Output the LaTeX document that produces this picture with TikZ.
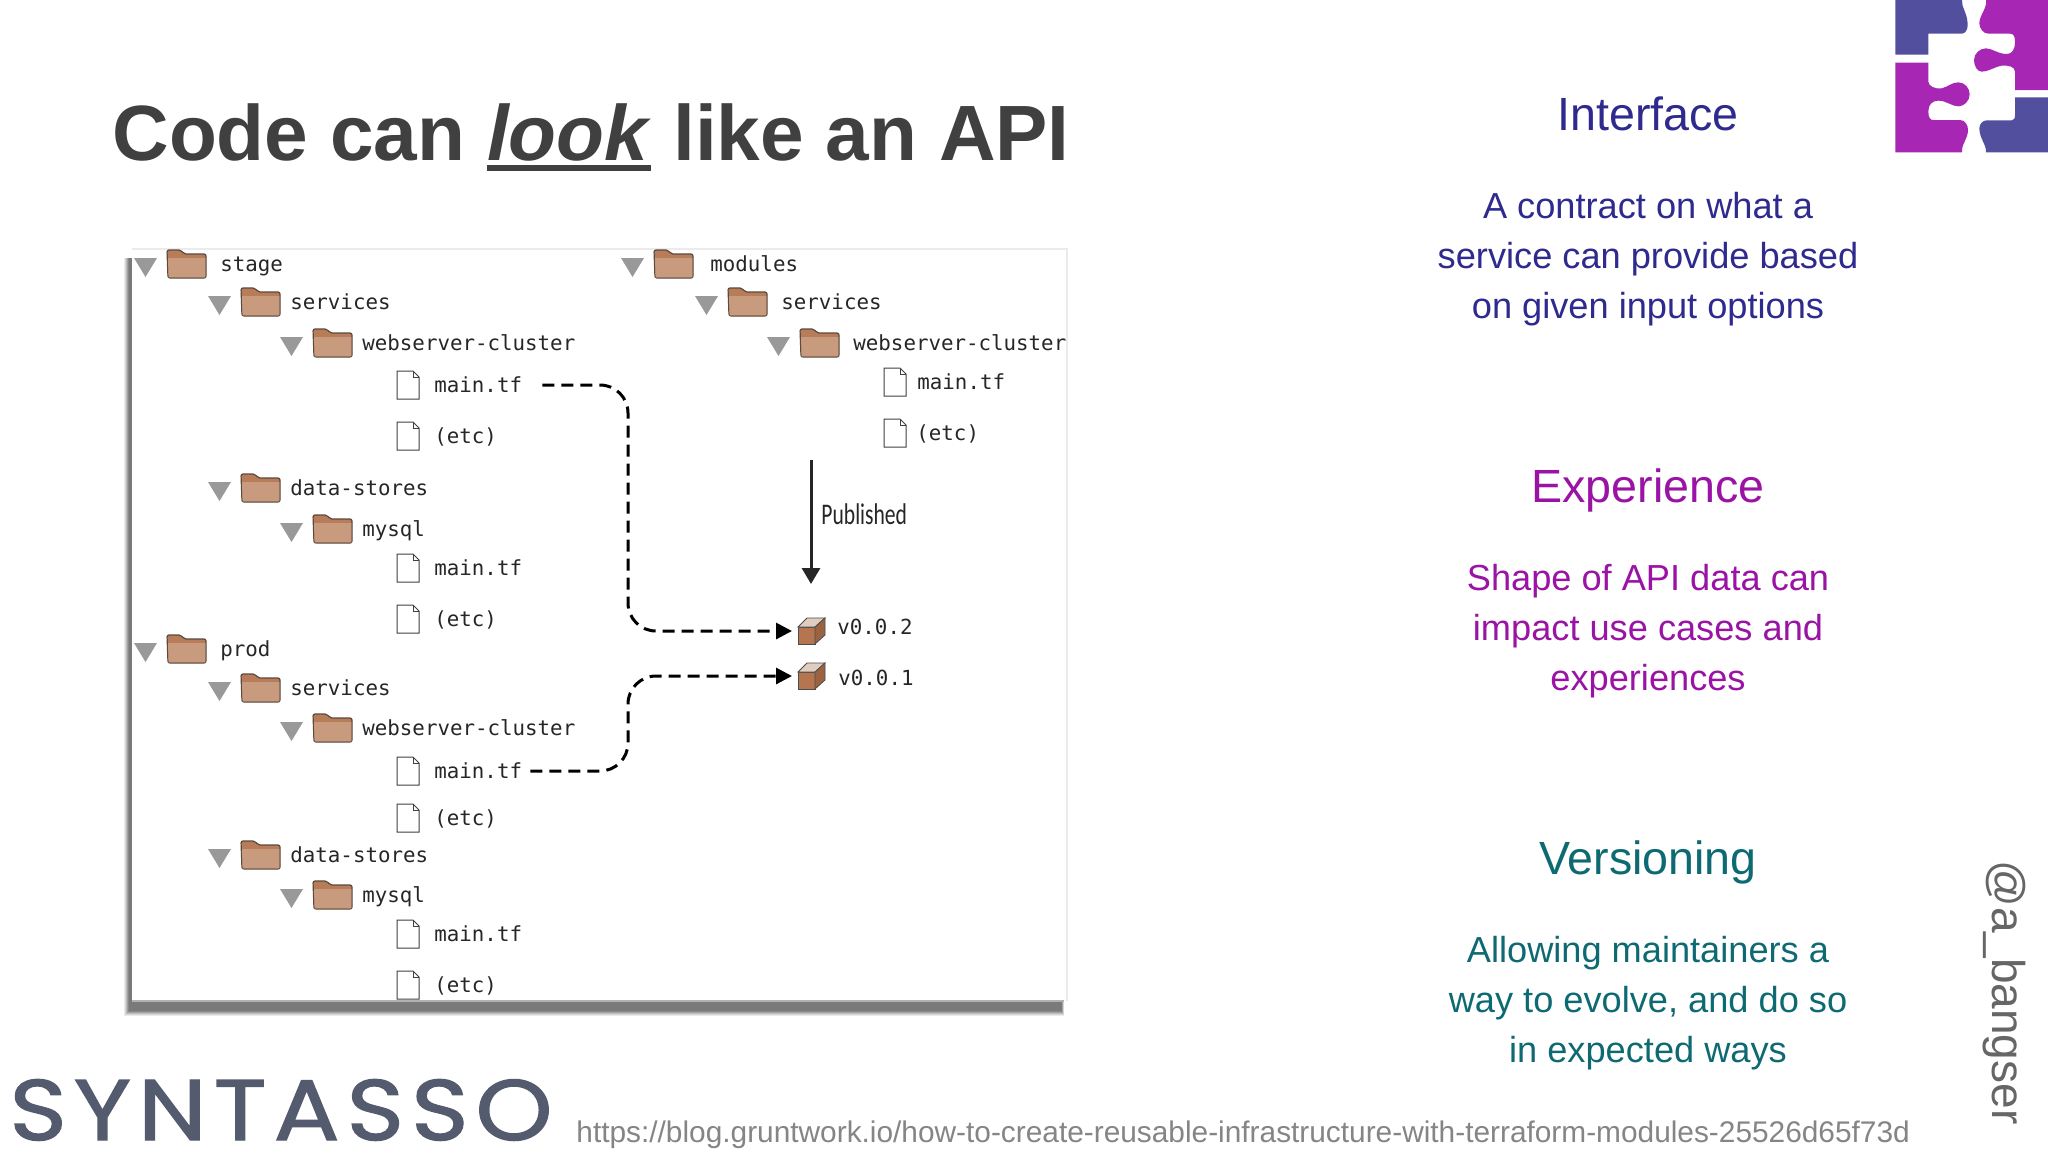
\documentclass[tikz,border=0pt]{standalone}
\usepackage{xcolor}
\usepackage{fontspec}
\setmainfont{Liberation Sans}
\newfontfamily\treefont{DejaVu Sans Mono}
\newfontfamily\narrowfont[FakeStretch=0.72]{Carlito}
\newfontfamily\brandfont[LetterSpace=8,FakeStretch=1.14,FakeBold=1.5]{Poppins}
\usetikzlibrary{arrows.meta}

\definecolor{titlegrey}{HTML}{404040}
\definecolor{ifacecol}{HTML}{2E2A8E}
\definecolor{expcol}{HTML}{9A13A5}
\definecolor{verscol}{HTML}{0E6A72}
\definecolor{logoblue}{HTML}{534F9F}
\definecolor{logopurple}{HTML}{A726B4}
\definecolor{brandgrey}{HTML}{555B6E}
\definecolor{foldertop}{HTML}{B87C58}
\definecolor{folderbody}{HTML}{C99B7E}
\definecolor{folderline}{HTML}{5A4A40}
\definecolor{cubefront}{HTML}{B5764F}
\definecolor{cubetop}{HTML}{E0CDBF}

\newcommand{\heavyunder}[1]{\setbox0\hbox{#1}\rlap{\rule[-5.6pt]{\wd0}{3.2pt}}\box0\relax}

\tikzset{
  treelabel/.style={anchor=base west, inner sep=0pt, font=\treefont\fontsize{10.4}{12}\selectfont, text=black!85},
  heading/.style={anchor=base, inner sep=0pt, font=\fontsize{23.3}{28}\selectfont},
  blurb/.style={anchor=center, inner sep=0pt, align=center, font=\fontsize{18.1}{25}\selectfont},
  dashlink/.style={line width=1.5pt, dash pattern=on 6pt off 3.5pt, rounded corners=14pt,
    -{Triangle[length=8pt,width=8pt]}},
  foldericon/.pic={
    \fill[black!40] (-52,-6) -- (-29,-6) -- (-40.5,13) -- cycle;
    \draw[draw=folderline, fill=foldertop, line width=.6pt, rounded corners=1pt]
      (-18,14) -- (-19,-14) -- (-5,-14) -- (-2,-10) -- (20,-10) -- (20,14) -- cycle;
    \fill[folderbody] (-18,-6) -- (19.4,-6) -- (19.4,13.4) -- (-17.4,13.4) -- cycle;
  },
  fileicon/.pic={
    \draw[draw=black!75, fill=white, line width=.5pt]
      (-11,-14) -- (5,-14) -- (11,-8) -- (11,14) -- (-11,14) -- cycle;
    \draw[draw=black!75, line width=.5pt] (5,-14) -- (5,-8) -- (11,-8);
  },
  cubeicon/.pic={
    \draw[draw=black!70, fill=cubefront, line width=.4pt] (-13,-4) rectangle (4,13);
    \draw[draw=black!70, fill=cubetop, line width=.4pt] (-13,-4) -- (-4,-13) -- (14,-13) -- (4,-4) -- cycle;
    \draw[draw=black!70, fill=cubefront!85!black, line width=.4pt] (4,-4) -- (14,-13) -- (14,4) -- (4,13) -- cycle;
  },
}

\begin{document}
\begin{tikzpicture}[x=0.5pt, y=-0.5pt]
  \useasboundingbox (0,0) rectangle (2048,1152);
  \fill[white] (0,0) rectangle (2048,1152);

  % Title and footer
  \node[anchor=base west, inner sep=0pt, text=titlegrey, font=\bfseries\fontsize{39.2}{44}\selectfont]
    (title) at (112,160) {Code can \heavyunder{\textit{look}} like an API};
  \node[anchor=base west, inner sep=0pt, text=brandgrey, font=\brandfont\fontsize{43}{48}\selectfont]
    (brand) at (9,1140) {SYNTASSO};
  \node[anchor=base west, inner sep=0pt, text=black!48, font=\fontsize{14.92}{18}\selectfont]
    (link) at (576,1142) {https://blog.gruntwork.io/how-to-create-reusable-infrastructure-with-terraform-modules-25526d65f73d};
  \node[anchor=base west, inner sep=0pt, rotate=-90, text=black!60, font=\fontsize{23}{28}\selectfont]
    (handle) at (1992,860) {@a\_bangser};

  % Right column
  \node[heading, text=ifacecol] (ifacehead) at (1648,130) {Interface};
  \node[blurb, text=ifacecol] (ifacebody) at (1648,259) {A contract on what a\\service can provide based\\on given input options};
  \node[heading, text=expcol] (exphead) at (1648,502) {Experience};
  \node[blurb, text=expcol] (expbody) at (1648,631) {Shape of API data can\\impact use cases and\\experiences};
  \node[heading, text=verscol] (vershead) at (1648,874) {Versioning};
  \node[blurb, text=verscol] (versbody) at (1648,1003) {Allowing maintainers a\\way to evolve, and do so\\in expected ways};

  % Logo
  \begin{scope}[shift={(1860,0)}, x=0.16667pt, y=-0.16667pt]
    \fill[logoblue] (106,0) -- (306,0) .. controls (303,20) and (323,40) .. (323,75)
      .. controls (323,90) and (315,101) .. (305,101) -- (205,101) -- (205,164) -- (106,164) -- cycle;
    \fill[logopurple] (378,0) -- (564,0) -- (564,270) -- (465,270) -- (465,215)
      .. controls (465,200) and (445,195) .. (425,197) .. controls (400,202) and (385,215) .. (365,215)
      .. controls (350,215) and (342,195) .. (342,180) .. controls (342,160) and (360,145) .. (378,145)
      .. controls (395,145) and (415,162) .. (440,162) .. controls (455,162) and (465,150) .. (465,125)
      .. controls (465,108) and (460,101) .. (450,101) -- (385,101) .. controls (370,101) and (358,85) .. (358,70)
      .. controls (358,45) and (382,25) .. (378,0) -- cycle;
    \fill[logopurple] (106,188) -- (205,188) -- (205,245) .. controls (205,258) and (225,268) .. (245,265)
      .. controls (265,260) and (275,247) .. (295,247) .. controls (315,247) and (329,265) .. (329,283)
      .. controls (329,303) and (312,319) .. (295,319) .. controls (275,319) and (260,302) .. (235,302)
      .. controls (215,302) and (205,315) .. (205,335) .. controls (205,352) and (210,360) .. (220,360)
      -- (300,360) .. controls (315,360) and (324,375) .. (324,390) .. controls (324,415) and (303,435) .. (306,457)
      -- (106,457) -- cycle;
    \fill[logoblue] (465,292) -- (564,292) -- (564,457) -- (378,457) .. controls (380,435) and (358,415) .. (358,385)
      .. controls (358,372) and (368,361) .. (380,361) -- (455,361) .. controls (462,361) and (465,355) .. (465,345) -- cycle;
  \end{scope}

  % Panel
  \foreach \o/\c in {0/8,1/16,2/26,3/36,4/46,5/52}
    \fill[black!\c] (124+\o,258) rectangle (1064-\o/2,1016-\o);
  \fill[white] (132,249) rectangle (1067,1001);
  \draw[black!8, line width=.6pt] (132,249) -- (1067,249) -- (1067,1001);
  \draw[black!30, line width=.6pt] (132,1001) -- (1064,1001);

  \begin{scope}
    \clip (132,249) rectangle (1067,1001);

    % Folders
    \foreach \n/\fx/\y/\tx/\t in {
      stage/186/271/220/stage, stageserv/260/309/290/services, stageweb/332/350/362/webserver-cluster,
      stagedata/260/495/290/data-stores, stagesql/332/536/362/mysql,
      prod/186/656/220/prod, prodserv/260/695/290/services, prodweb/332/735/362/webserver-cluster,
      proddata/260/862/290/data-stores, prodsql/332/902/362/mysql,
      modules/673/271/710/modules, modserv/747/309/781/services, modweb/819/350/853/webserver-cluster} {
      \pic at (\fx,\y-7) {foldericon};
      \node[treelabel] (\n) at (\tx,\y) {\t};
    }

    % Files
    \foreach \n/\fx/\y/\tx/\t in {
      stagemain/408/392/434/main.tf, stageetc/408/443/434/(etc),
      sqlmain/408/575/434/main.tf, sqletc/408/626/434/(etc),
      prodmain/408/778/434/main.tf, prodetc/408/825/434/(etc),
      psqlmain/408/941/434/main.tf, psqletc/408/992/434/(etc),
      modmain/895/389/917/main.tf, modetc/895/440/916/(etc)} {
      \pic at (\fx,\y-7) {fileicon};
      \node[treelabel] (\n) at (\tx,\y) {\t};
    }

    % Versions
    \pic at (811,631) {cubeicon};
    \pic at (811,676) {cubeicon};
    \coordinate (vtwo) at (792,631);
    \coordinate (vone) at (792,676);
    \coordinate (pubtop) at (811,460);
    \coordinate (pubend) at (811,584);
    \node[treelabel] (vtwolabel) at (837,634) {v0.0.2};
    \node[treelabel] (vonelabel) at (838,685) {v0.0.1};
    \node[anchor=base west, inner sep=0pt, text=black!85, font=\narrowfont\fontsize{15}{18}\selectfont]
      (published) at (821,524) {Published};

    % Edges
    \draw[line width=1.5pt, black!85, -{Triangle[length=8pt,width=9pt]}] (pubtop) -- (pubend);
    \draw[dashlink] ([xshift=10pt]stagemain.base east) ++(0,-7) -- (628,385) -- (628,631) -- (vtwo);
    \draw[dashlink] ([xshift=4pt]prodmain.base east) ++(0,-7) -- (628,771) -- (628,676) -- (vone);
  \end{scope}
\end{tikzpicture}
\end{document}
